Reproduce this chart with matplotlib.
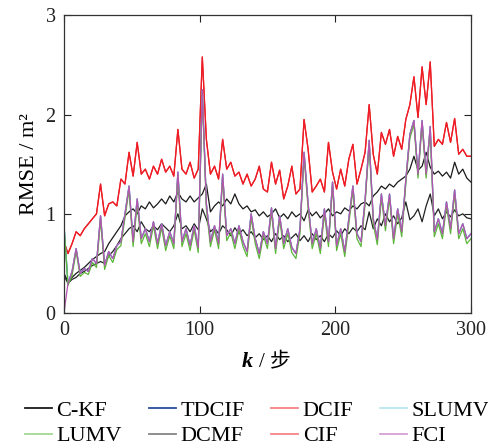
import numpy as np
import matplotlib
matplotlib.use("Agg")
import matplotlib.pyplot as plt

plt.rcParams['font.family'] = ['Liberation Serif', 'Noto Sans CJK SC']
plt.rcParams['mathtext.fontset'] = 'stix'

# time steps (every 3rd step)
k = np.arange(0, 301, 3)

dcif = [0.72, 0.60, 0.70, 0.82, 0.78, 0.85, 0.90, 0.95, 1.00, 1.30,
        0.98, 1.10, 1.12, 1.08, 1.35, 1.30, 1.62, 1.38, 1.72, 1.40,
        1.45, 1.35, 1.48, 1.40, 1.55, 1.42, 1.48, 1.38, 1.85, 1.45,
        1.40, 1.52, 1.36, 1.45, 2.58, 1.75, 1.40, 1.48, 1.35, 1.75,
        1.45, 1.52, 1.38, 1.42, 1.30, 1.40, 1.28, 1.35, 1.48, 1.25,
        1.22, 1.52, 1.30, 1.44, 1.15, 1.28, 1.48, 1.20, 1.25, 1.95,
        1.65, 1.22, 1.28, 1.35, 1.22, 1.72, 1.42, 1.25, 1.45, 1.28,
        1.55, 1.70, 1.30, 1.45, 1.62, 2.10, 1.60, 1.40, 1.82, 1.70,
        1.85, 1.58, 1.78, 1.65, 1.95, 2.10, 2.38, 1.97, 2.48, 2.10,
        2.53, 1.68, 1.75, 1.70, 1.92, 1.72, 1.96, 1.60, 1.65, 1.58,
        1.58]
cif = dcif

ckf = [0.40, 0.32, 0.36, 0.40, 0.43, 0.46, 0.50, 0.54, 0.57, 0.60,
       0.62, 0.70, 0.76, 0.82, 0.88, 0.98, 1.02, 1.05, 1.00, 1.08,
       1.05, 1.12, 1.06, 1.10, 1.15, 1.10, 1.18, 1.12, 1.22, 1.15,
       1.12, 1.18, 1.12, 1.16, 1.20, 1.30, 1.02, 1.08, 1.12, 1.08,
       1.15, 1.10, 1.20, 1.10, 1.05, 1.08, 1.02, 1.04, 0.98, 1.02,
       0.97, 1.00, 1.05, 0.96, 1.00, 0.95, 1.02, 0.97, 1.00, 0.93,
       1.04, 0.98, 1.02, 0.96, 1.00, 1.05, 0.98, 1.02, 1.00, 1.06,
       1.03, 1.08, 1.05, 1.10, 1.12, 1.08, 1.18, 1.22, 1.28, 1.25,
       1.30, 1.27, 1.32, 1.35, 1.38, 1.45, 1.58, 1.44, 1.48, 1.62,
       1.47, 1.40, 1.43, 1.38, 1.42, 1.36, 1.52, 1.40, 1.45, 1.36,
       1.32]

dcmf = [0.38, 0.30, 0.34, 0.36, 0.40, 0.42, 0.45, 0.48, 0.50, 0.52,
        0.50, 0.58, 0.62, 0.68, 0.75, 0.80, 0.85, 0.88, 0.82, 0.92,
        0.85, 0.82, 0.88, 0.84, 0.90, 0.86, 0.82, 0.88, 1.00, 0.85,
        0.88, 0.82, 0.90, 0.84, 1.05, 0.95, 0.82, 0.86, 0.80, 0.88,
        0.84, 0.78, 0.86, 0.80, 0.84, 0.78, 0.82, 0.76, 0.80, 0.74,
        0.78, 0.72, 0.80, 0.74, 0.78, 0.72, 0.76, 0.80, 0.73, 0.78,
        0.72, 0.80, 0.74, 0.78, 0.72, 0.80, 0.76, 0.83, 0.78, 0.85,
        0.80, 0.86, 0.82, 0.88, 0.84, 1.02, 0.85, 0.95, 0.88, 1.00,
        0.92, 0.98, 0.90, 0.96, 1.12, 0.94, 0.98, 1.05, 0.92, 1.08,
        1.20, 0.98, 1.05, 0.95, 1.02, 0.97, 1.04, 0.98, 1.00, 0.96,
        0.95]

fci = [0.00, 0.30, 0.42, 0.65, 0.40, 0.45, 0.42, 0.55, 0.50, 0.98,
       0.48, 0.62, 0.55, 0.68, 0.72, 1.00, 1.28, 0.72, 1.15, 0.75,
       0.85, 0.72, 0.92, 0.70, 0.90, 0.68, 0.82, 0.70, 1.42, 0.72,
       0.85, 0.68, 0.88, 0.66, 2.25, 1.10, 0.72, 0.88, 0.70, 1.40,
       0.78, 0.85, 0.70, 0.88, 0.72, 0.62, 1.00, 0.75, 0.60, 0.82,
       0.70, 1.06, 0.65, 0.98, 0.70, 0.85, 0.66, 0.60, 0.85, 1.62,
       1.10, 0.70, 0.85, 0.65, 1.05, 0.72, 1.32, 0.68, 0.85, 0.62,
       0.95, 1.28, 0.80, 0.72, 1.14, 1.74, 0.95, 0.74, 1.20, 0.88,
       1.20, 0.75, 1.05, 0.82, 1.34, 1.80, 1.94, 1.40, 1.94, 1.40,
       1.88, 0.82, 0.95, 0.80, 1.12, 0.85, 1.24, 0.80, 0.90, 0.75,
       0.80]

lumv = [0.88, 0.28, 0.38, 0.62, 0.37, 0.41, 0.39, 0.51, 0.46, 0.94,
        0.44, 0.58, 0.51, 0.64, 0.68, 0.96, 1.24, 0.67, 1.10, 0.70,
        0.80, 0.67, 0.88, 0.65, 0.86, 0.63, 0.78, 0.65, 1.38, 0.67,
        0.80, 0.63, 0.84, 0.61, 2.20, 1.05, 0.67, 0.84, 0.65, 1.36,
        0.73, 0.81, 0.65, 0.84, 0.67, 0.57, 0.96, 0.70, 0.55, 0.78,
        0.65, 1.02, 0.60, 0.94, 0.65, 0.80, 0.61, 0.55, 0.80, 1.58,
        1.05, 0.65, 0.80, 0.60, 1.00, 0.67, 1.28, 0.63, 0.80, 0.57,
        0.90, 1.24, 0.75, 0.67, 1.10, 1.70, 0.90, 0.69, 1.16, 0.83,
        1.16, 0.70, 1.00, 0.77, 1.30, 1.76, 1.90, 1.36, 1.90, 1.36,
        1.84, 0.77, 0.90, 0.75, 1.08, 0.80, 1.20, 0.75, 0.85, 0.70,
        0.75]

# TDCIF and SLUMV lie under FCI except at the first step
tdcif = [0.90] + fci[1:]
slumv = [0.89] + fci[1:]

fig = plt.figure(figsize=(4.88, 4.48), dpi=100)
ax = fig.add_axes([0.131, 0.301, 0.834, 0.665])

lw = 0.9
l_dcif, = ax.plot(k, dcif, color='#ee1c24', lw=lw, label='DCIF')
l_cif, = ax.plot(k, cif, color='#ee1c24', lw=lw, label='CIF')
l_ckf, = ax.plot(k, ckf, color='#1a1a1a', lw=lw, label='C-KF')
l_dcmf, = ax.plot(k, dcmf, color='#222222', lw=lw, label='DCMF')
l_td, = ax.plot(k, tdcif, color='#2b4c9b', lw=lw, label='TDCIF')
l_sl, = ax.plot(k, slumv, color='#7fd3e0', lw=lw, label='SLUMV')
l_lu, = ax.plot(k, lumv, color='#5cb63a', lw=lw, label='LUMV')
l_fci, = ax.plot(k, fci, color='#b455b0', lw=lw, label='FCI')

ax.set_xlim(0, 300)
ax.set_ylim(0, 3)
ax.set_xticks([0, 100, 200, 300])
ax.set_yticks([0, 1, 2, 3])
ax.tick_params(direction='in', length=5, width=0.8, top=True, right=True,
               labelsize=14.5, pad=6, colors='#222222')
for s in ax.spines.values():
    s.set_linewidth(0.9)
    s.set_color('#333333')

ax.set_ylabel('RMSE / m²', fontsize=16, labelpad=5)
ax.text(0.464, -0.165, 'k', transform=ax.transAxes, ha='right', va='center',
        fontsize=16, style='italic', fontweight='bold')
ax.text(0.479, -0.165, '/ 步', transform=ax.transAxes, ha='left', va='center',
        fontsize=15)

# legend is read row by row in the figure, matplotlib fills columns first
handles = [l_ckf, l_lu, l_td, l_dcmf, l_dcif, l_cif, l_sl, l_fci]
leg = fig.legend(handles=handles, labels=[h.get_label() for h in handles],
                 ncol=4, loc='center left', bbox_to_anchor=(0.0512, 0.055),
                 frameon=False, fontsize=16, handlelength=1.22,
                 handletextpad=0.2, columnspacing=1.2, labelspacing=0.22,
                 borderpad=0, borderaxespad=0)
for ln in leg.get_lines():
    ln.set_linewidth(1.3)
    if ln.get_label() not in ('C-KF', 'TDCIF'):
        ln.set_alpha(0.55)

fig.savefig('out.png', dpi=100)
